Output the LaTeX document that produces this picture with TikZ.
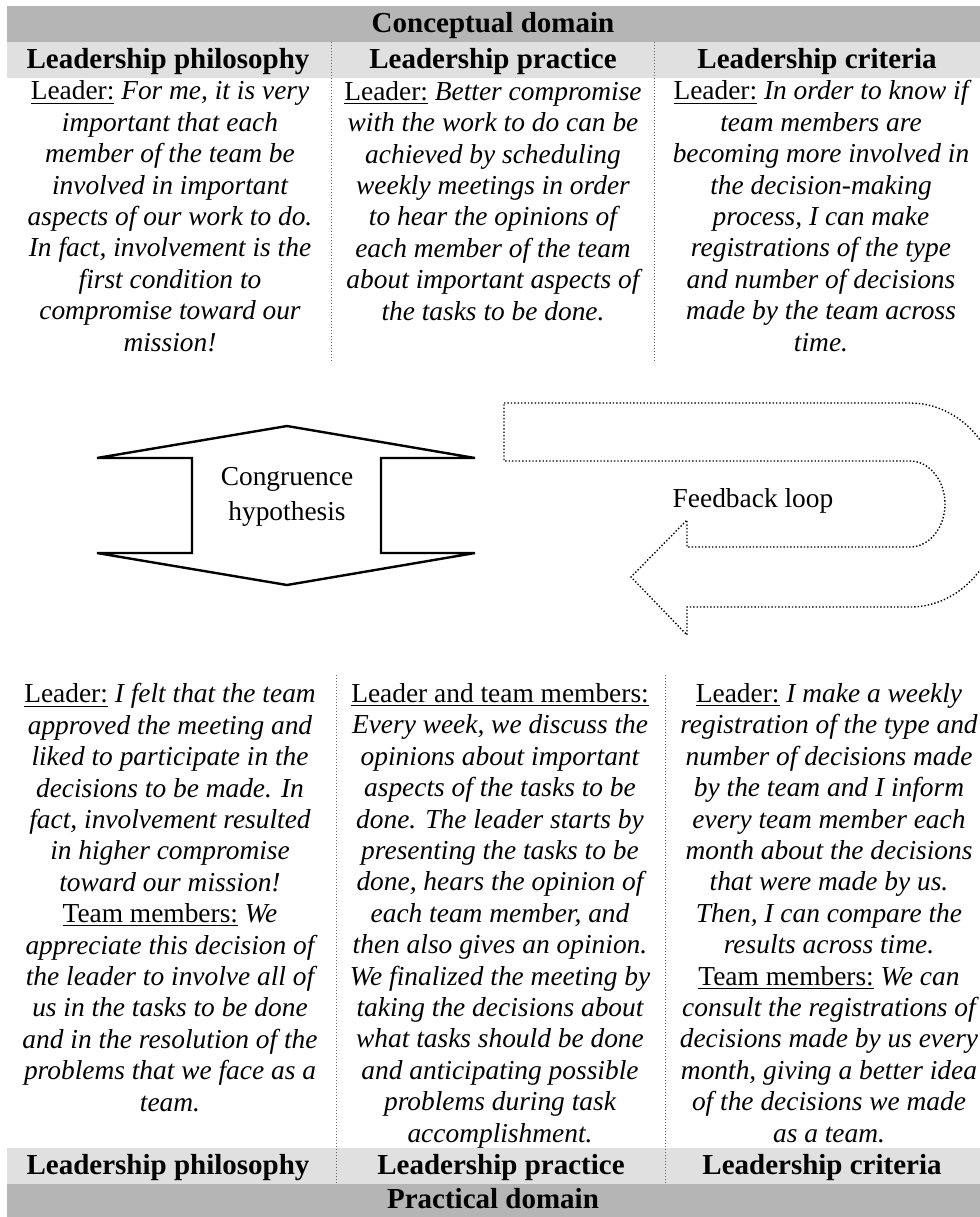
\documentclass[tikz,border=0pt]{standalone}
\usepackage{fontspec}
\setmainfont{Liberation Serif}
\usepackage{xcolor}
\usepackage{tikz}
\definecolor{bandDark}{gray}{0.71}
\definecolor{bandLight}{gray}{0.88}
\newcommand{\who}[1]{\textup{\underline{#1}}}

\begin{document}
\begin{tikzpicture}[x=0.5pt,y=-0.5pt,
  body/.style={anchor=base,align=center,inner sep=0pt,font=\fontsize{13.7}{15.7}\selectfont\itshape},
  head/.style={anchor=base,inner sep=0pt,font=\fontsize{14.5}{16}\selectfont\bfseries},
  plain/.style={align=center,inner sep=0pt,font=\fontsize{13.7}{17.5}\selectfont},
  divider/.style={draw=black!60,densely dotted,line width=0.5pt},
  bigarrow/.style={draw,line width=1.2pt,line join=miter},
  loopline/.style={draw,densely dotted,line width=0.7pt}]
\useasboundingbox (0,0) rectangle (980,1217);
\clip (0,0) rectangle (980,1217);

\fill[bandDark]  (7,6)     rectangle (980,42);
\fill[bandLight] (7,42)    rectangle (980,78);
\fill[bandLight] (7,1148)  rectangle (980,1184);
\fill[bandDark]  (7,1184)  rectangle (980,1217);

\draw[divider] (331,42)  -- (331,362);
\draw[divider] (654,42)  -- (654,362);
\draw[divider] (336,675) -- (336,1184);
\draw[divider] (665,675) -- (665,1184);

\node[head] (conc)  at (493,32)   {Conceptual domain};
\node[head] (cphil) at (168,68)   {Leadership philosophy};
\node[head] (cprac) at (493,68)   {Leadership practice};
\node[head] (ccrit) at (817,68)   {Leadership criteria};
\node[head] (pphil) at (168,1174) {Leadership philosophy};
\node[head] (pprac) at (501,1174) {Leadership practice};
\node[head] (pcrit) at (822,1174) {Leadership criteria};
\node[head] (prac)  at (493,1208) {Practical domain};

\node[body] (tphil) at (170,351) {\who{Leader:} For me, it is very\\
  important that each\\ member of the team be\\ involved in important\\
  aspects of our work to do.\\ In fact, involvement is the\\
  first condition to\\ compromise toward our\\ mission!};
\node[body] (tprac) at (493,320) {\who{Leader:} Better compromise\\
  with the work to do can be\\ achieved by scheduling\\ weekly meetings in order\\
  to hear the opinions of\\ each member of the team\\
  about important aspects of\\ the tasks to be done.};
\node[body] (tcrit) at (821,351) {\who{Leader:} In order to know if\\
  team members are\\ becoming more involved in\\ the decision-making\\
  process, I can make\\ registrations of the type\\
  and number of decisions\\ made by the team across\\ time.};

\node[body] (bphil) at (170,1111) {\who{Leader:} I felt that the team\\
  approved the meeting and\\ liked to participate in the\\ decisions to be made. In\\
  fact, involvement resulted\\ in higher compromise\\ toward our mission!\\
  \who{Team members:} We\\ appreciate this decision of\\ the leader to involve all of\\
  us in the tasks to be done\\ and in the resolution of the\\
  problems that we face as a\\ team.};
\node[body] (bprac) at (500,1142) {\who{Leader and team members:}\\
  Every week, we discuss the\\ opinions about important\\ aspects of the tasks to be\\
  done. The leader starts by\\ presenting the tasks to be\\ done, hears the opinion of\\
  each team member, and\\ then also gives an opinion.\\ We finalized the meeting by\\
  taking the decisions about\\ what tasks should be done\\ and anticipating possible\\
  problems during task\\ accomplishment.};
\node[body] (bcrit) at (829,1142) {\who{Leader:} I make a weekly\\
  registration of the type and\\ number of decisions made\\ by the team and I inform\\
  every team member each\\ month about the decisions\\ that were made by us.\\
  Then, I can compare the\\ results across time.\\ \who{Team members:} We can\\
  consult the registrations of\\ decisions made by us every\\
  month, giving a better idea\\ of the decisions we made\\ as a team.};

\draw[bigarrow] (287,426) -- (475,458) -- (381,458) -- (381,553) -- (475,553)
  -- (287,585) -- (97,553) -- (192,553) -- (192,458) -- (97,458) -- cycle;
\node[plain] (congr) at (287,497) {Congruence\\hypothesis};

\draw[loopline] (504,403) -- (910,403)
  .. controls (960.3,403) and (1001,448.7) .. (1001,505)
  .. controls (1001,561.3) and (960.3,607) .. (910,607)
  -- (687,607) -- (687,635) -- (631,577) -- (687,520) -- (687,547) -- (910,547)
  .. controls (929.3,547) and (945,527.7) .. (945,504)
  .. controls (945,480.3) and (929.3,461) .. (910,461)
  -- (504,461) -- cycle;
\node[plain,anchor=base] (fb) at (753,507) {Feedback loop};
\end{tikzpicture}
\end{document}
